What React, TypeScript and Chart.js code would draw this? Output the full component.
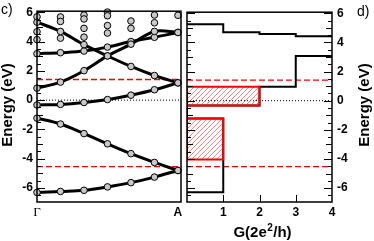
import React, { useEffect, useRef } from "react";
import { Chart, registerables } from "chart.js";
Chart.register(...registerables);

// ---------- data: band structure (panel c) ----------
const kIndex = [0, 1, 2, 3, 4, 5, 6];
const kTickLabels = ["Γ", "A"];
const bandA = [5.32, 4.69, 3.79, 3.02, 2.30, 1.68, 1.18];
const bandB = [0.82, 1.23, 2.01, 3.02, 3.82, 4.69, 4.62];
const bandC = [3.17, 3.24, 3.35, 3.62, 4.00, 4.29, 4.62];
const bandD = [-0.33, -0.29, -0.16, 0.04, 0.34, 0.71, 1.18];
const bandE = [-1.23, -1.63, -2.28, -2.98, -3.65, -4.25, -4.80];
const bandF = [-6.30, -6.23, -6.15, -5.92, -5.63, -5.25, -4.80];
const extraK = [0, 0, 0, 1, 1, 1, 2, 2, 2, 2, 3, 3, 3, 3, 4, 4, 5, 5, 6];
const extraE = [5.69, 4.67, 4.13, 5.68, 5.37, 4.23, 5.81, 5.54, 4.90, 4.30, 6.01, 5.76, 5.09, 4.58, 5.40, 4.90, 5.81, 5.28, 5.79];

// ---------- data: conductance (panel d) ----------
const gTicks = [1, 2, 3, 4];
const energyTicks = [-6, -4, -2, 0, 2, 4, 6];
const fermiLevel = 0;
const redLevels = [1.41, -4.53];
const stairLowG = [0, 1, 1, 0, 0, 2, 2, 3, 3, 4];
const stairLowE = [-6.28, -6.28, -1.23, -1.23, -0.33, -0.33, 0.96, 0.96, 3.06, 3.06];
const stairHighG = [0, 1, 1, 2, 2, 3, 3, 4];
const stairHighE = [5.25, 5.25, 4.69, 4.69, 4.58, 4.58, 4.42, 4.42];
const box1G = [0, 2];
const box1E = [-0.33, 0.96];
const box2G = [0, 1];
const box2E = [-4.03, -1.23];

const E_MIN = -6.95;
const E_MAX = 6.07;
const K_MAX = 6.13;
const SANS = "'Liberation Sans', Arial, sans-serif";

function framePlugin(opts: { left: boolean; right: boolean; bottom: number[] }) {
  return {
    id: "frameTicks",
    afterDatasetsDraw(chart: any) {
      const { ctx, chartArea: a, scales } = chart;
      const y = scales.y;
      const x = scales.x;
      ctx.save();
      ctx.strokeStyle = "#000";
      ctx.lineWidth = 1;
      ctx.beginPath();
      for (let i = Math.ceil(E_MIN * 2); i <= Math.floor(E_MAX * 2); i++) {
        const v = i / 2;
        const py = Math.round(y.getPixelForValue(v)) + 0.5;
        const len = i % 2 !== 0 ? 4 : i % 4 === 0 ? 8 : 6;
        if (opts.left) {
          ctx.moveTo(a.left, py);
          ctx.lineTo(a.left + len, py);
        }
        if (opts.right) {
          ctx.moveTo(a.right - len, py);
          ctx.lineTo(a.right, py);
        }
      }
      opts.bottom.forEach((v) => {
        const px = Math.round(x.getPixelForValue(v)) + 0.5;
        ctx.moveTo(px, a.bottom);
        ctx.lineTo(px, a.bottom - 7);
      });
      ctx.stroke();
      ctx.lineWidth = 1.5;
      ctx.strokeRect(a.left, a.top, a.right - a.left, a.bottom - a.top);
      ctx.restore();
    },
  };
}

function textPlugin(draw: (ctx: CanvasRenderingContext2D, chart: any) => void) {
  return {
    id: "texts",
    afterDraw(chart: any) {
      const ctx = chart.ctx;
      ctx.save();
      ctx.fillStyle = "#000";
      draw(ctx, chart);
      ctx.restore();
    },
  };
}

function pts(xs: number[], ys: number[]) {
  return xs.map((x, i) => ({ x, y: ys[i] }));
}

function boxPts(g: number[], e: number[]) {
  return pts([g[0], g[1], g[1], g[0], g[0]], [e[0], e[0], e[1], e[1], e[0]]);
}

export default function App() {
  const leftRef = useRef<HTMLCanvasElement>(null);
  const rightRef = useRef<HTMLCanvasElement>(null);

  useEffect(() => {
    Chart.defaults.color = "#000";
    const bands = [bandA, bandB, bandC, bandD, bandE, bandF];
    const bandSets = bands.map((b) => ({
      data: pts(kIndex, b),
      borderColor: "#000",
      borderWidth: 3,
      pointRadius: 3.3,
      pointBackgroundColor: "#c8c8c8",
      pointBorderColor: "#000",
      pointBorderWidth: 1,
      tension: 0.35,
      clip: false as any,
      order: 0,
    }));
    const yScale = (position: "left" | "right", width: number, pad: number) => ({
      type: "linear" as const,
      position,
      min: E_MIN,
      max: E_MAX,
      grid: { display: false, drawTicks: false },
      border: { display: false },
      afterBuildTicks: (s: any) => {
        s.ticks = energyTicks.map((v) => ({ value: v }));
      },
      ticks: { font: { family: SANS, weight: "bold" as const, size: 12 }, padding: pad, color: "#000" },
      afterFit: (s: any) => {
        s.width = width;
      },
    });

    const left = new Chart(leftRef.current!, {
      type: "line",
      data: {
        datasets: [
          ...bandSets,
          {
            data: pts(extraK, extraE),
            showLine: false,
            pointRadius: 3.3,
            pointBackgroundColor: "#c8c8c8",
            pointBorderColor: "#000",
            pointBorderWidth: 1,
            clip: false as any,
            order: 0,
          },
          {
            data: pts([0, K_MAX], [fermiLevel, fermiLevel]),
            borderColor: "#000",
            borderWidth: 1,
            borderDash: [1, 2],
            pointRadius: 0,
            order: 2,
          },
          ...redLevels.map((lv) => ({
            data: pts([0, K_MAX], [lv, lv]),
            borderColor: "#ff0000",
            borderWidth: 1.3,
            borderDash: [6, 3],
            pointRadius: 0,
            order: 2,
          })),
        ] as any,
      },
      options: {
        animation: false,
        responsive: false,
        maintainAspectRatio: false,
        layout: { padding: { top: 8, right: 1, left: 0, bottom: 0 } },
        plugins: { legend: { display: false }, tooltip: { enabled: false } },
        scales: {
          x: {
            type: "linear",
            min: 0,
            max: K_MAX,
            grid: { display: false, drawTicks: false },
            border: { display: false },
            afterBuildTicks: (s: any) => {
              s.ticks = [{ value: 0 }, { value: 6 }];
            },
            ticks: {
              autoSkip: false,
              maxRotation: 0,
              padding: 3,
              color: "#000",
              callback: (v: any) => (v === 0 ? kTickLabels[0] : kTickLabels[1]),
              font: (c: any) =>
                c.tick && c.tick.value === 0
                  ? { family: "'Liberation Serif', 'DejaVu Serif', serif", size: 13, weight: "normal" }
                  : { family: SANS, size: 12, weight: "bold" },
            },
            afterFit: (s: any) => {
              s.height = 39;
            },
          },
          y: yScale("left", 37, 4),
        } as any,
      },
      plugins: [
        framePlugin({ left: true, right: false, bottom: [] }),
        textPlugin((ctx) => {
          ctx.font = `14px ${SANS}`;
          ctx.textAlign = "left";
          ctx.textBaseline = "middle";
          ctx.fillText("c)", 1, 10);
          ctx.font = `bold 15px ${SANS}`;
          ctx.textAlign = "center";
          ctx.translate(8, 105);
          ctx.rotate(-Math.PI / 2);
          ctx.fillText("Energy (eV)", 0, 0);
        }),
      ],
    });

    const rctx = rightRef.current!.getContext("2d")!;
    const pc = document.createElement("canvas");
    pc.width = 5;
    pc.height = 5;
    const pg = pc.getContext("2d")!;
    pg.strokeStyle = "rgba(255,70,70,0.85)";
    pg.lineWidth = 0.8;
    pg.beginPath();
    pg.moveTo(0, 5);
    pg.lineTo(5, 0);
    pg.moveTo(-1, 1);
    pg.lineTo(1, -1);
    pg.moveTo(4, 6);
    pg.lineTo(6, 4);
    pg.stroke();
    const hatch = rctx.createPattern(pc, "repeat");

    const right = new Chart(rightRef.current!, {
      type: "line",
      data: {
        datasets: [
          ...[
            [box1G, box1E],
            [box2G, box2E],
          ].map(([g, e]) => ({
            data: boxPts(g, e),
            borderColor: "#ff0000",
            borderWidth: 2,
            backgroundColor: hatch,
            fill: "shape",
            pointRadius: 0,
            tension: 0,
            order: 0,
          })),
          {
            data: pts(stairLowG, stairLowE),
            borderColor: "#000",
            borderWidth: 2,
            pointRadius: 0,
            tension: 0,
            order: 1,
          },
          {
            data: pts(stairHighG, stairHighE),
            borderColor: "#000",
            borderWidth: 2,
            pointRadius: 0,
            tension: 0,
            order: 1,
          },
          {
            data: pts([0, 4], [fermiLevel, fermiLevel]),
            borderColor: "#000",
            borderWidth: 1,
            borderDash: [1, 2],
            pointRadius: 0,
            order: 0,
          },
          ...redLevels.map((lv) => ({
            data: pts([0, 4], [lv, lv]),
            borderColor: "#ff0000",
            borderWidth: 1.3,
            borderDash: [6, 3],
            pointRadius: 0,
            order: 2,
          })),
        ] as any,
      },
      options: {
        animation: false,
        responsive: false,
        maintainAspectRatio: false,
        layout: { padding: { top: 8, right: 0, left: 1, bottom: 0 } },
        plugins: { legend: { display: false }, tooltip: { enabled: false } },
        scales: {
          x: {
            type: "linear",
            min: 0,
            max: 4,
            grid: { display: false, drawTicks: false },
            border: { display: false },
            afterBuildTicks: (s: any) => {
              s.ticks = gTicks.map((v) => ({ value: v }));
            },
            ticks: {
              autoSkip: false,
              maxRotation: 0,
              padding: 3,
              color: "#000",
              font: { family: SANS, size: 12, weight: "bold" },
            },
            afterFit: (s: any) => {
              s.height = 39;
            },
          },
          y: yScale("right", 42, 5),
        } as any,
      },
      plugins: [
        framePlugin({ left: true, right: true, bottom: [1, 2, 3] }),
        textPlugin((ctx, chart) => {
          ctx.font = `14px ${SANS}`;
          ctx.textAlign = "left";
          ctx.textBaseline = "middle";
          ctx.fillText("d)", 171, 12);
          // x title G(2e^2/h)
          const a = chart.chartArea;
          const big = `bold 15px ${SANS}`;
          const small = `bold 10px ${SANS}`;
          ctx.font = big;
          const w1 = ctx.measureText("G(2e").width;
          const w3 = ctx.measureText("/h)").width;
          ctx.font = small;
          const w2 = ctx.measureText("2").width + 1;
          const total = w1 + w2 + w3;
          let x0 = (a.left + a.right) / 2 + 3 - total / 2;
          const yb = 237;
          ctx.textBaseline = "alphabetic";
          ctx.font = big;
          ctx.fillText("G(2e", x0, yb);
          ctx.font = small;
          ctx.fillText("2", x0 + w1 + 0.5, yb - 6);
          ctx.font = big;
          ctx.fillText("/h)", x0 + w1 + w2, yb);
          // right y title
          ctx.textAlign = "center";
          ctx.textBaseline = "middle";
          ctx.translate(179, 105);
          ctx.rotate(-Math.PI / 2);
          ctx.fillText("Energy (eV)", 0, 0);
        }),
      ],
    });

    return () => {
      left.destroy();
      right.destroy();
    };
  }, []);

  return (
    <div style={{ position: "absolute", left: 0, top: 0, width: 374, height: 241, background: "#fff" }}>
      <canvas
        ref={leftRef}
        width={186}
        height={241}
        style={{ position: "absolute", left: 0, top: 0, width: 186, height: 241 }}
      />
      <canvas
        ref={rightRef}
        width={188}
        height={241}
        style={{ position: "absolute", left: 186, top: 0, width: 188, height: 241 }}
      />
    </div>
  );
}
